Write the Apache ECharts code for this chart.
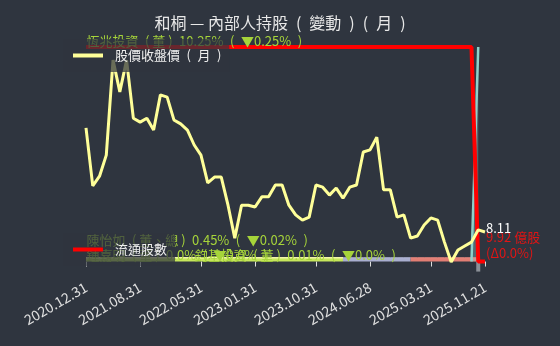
<!DOCTYPE html>
<html><head><meta charset="utf-8">
<script src="https://cdn.jsdelivr.net/npm/echarts@6/dist/echarts.min.js"></script>
<style>html,body{margin:0;padding:0;background:#2f353f;}#c{width:560px;height:346px;}</style>
</head><body><div id="c"></div>
<script>
const dates = ['2020.12.31','2021.01.29','2021.02.26','2021.03.31','2021.04.30','2021.05.31','2021.06.30','2021.07.30','2021.08.31','2021.09.30','2021.10.29','2021.11.30','2021.12.30',
'2022.01.26','2022.02.25','2022.03.31','2022.04.29','2022.05.31','2022.06.30','2022.07.29','2022.08.31','2022.09.30','2022.10.31','2022.11.30','2022.12.30',
'2023.01.31','2023.02.24','2023.03.31','2023.04.28','2023.05.31','2023.06.30','2023.07.31','2023.08.31','2023.09.28','2023.10.31','2023.11.30','2023.12.29',
'2024.01.31','2024.02.29','2024.03.29','2024.04.30','2024.05.31','2024.06.28','2024.07.31','2024.08.30','2024.09.30','2024.10.30','2024.11.29','2024.12.31',
'2025.01.22','2025.02.27','2025.03.31','2025.04.30','2025.05.29','2025.06.30','2025.07.31','2025.08.29','2025.09.30','2025.10.31','2025.11.21'];
// 股價收盤價（月）
const price = [10.48,9.16,9.38,9.86,12.02,11.30,12.02,10.70,10.61,10.70,10.43,11.23,11.18,10.66,10.57,10.43,10.09,9.86,9.23,9.36,
9.36,8.72,7.97,8.72,8.72,8.68,8.91,8.91,9.18,9.18,8.72,8.50,8.38,8.45,9.18,9.13,8.95,9.11,8.88,9.13,
9.18,9.93,9.98,10.27,9.07,9.07,8.45,8.50,7.97,8.02,8.27,8.43,8.38,7.88,7.43,7.70,7.79,7.88,8.16,8.11];
// 流通股數（億股）
const floatShares = [9.92,9.92,9.92,9.92,9.92,9.92,9.92,9.92,9.92,9.92,9.92,9.92,9.92,9.92,9.92,9.92,9.92,9.92,9.92,9.92,
9.92,9.92,9.92,9.92,9.92,9.92,9.92,9.92,9.92,9.92,9.92,9.92,9.92,9.92,9.92,9.92,9.92,9.92,9.92,9.92,
9.92,9.92,9.92,9.92,9.92,9.92,9.92,9.92,9.92,9.92,9.92,9.92,9.92,9.92,9.92,9.92,9.92,9.92,0,0];
const N = dates.length;
const fill = (from, to, v) => dates.map((d, i) => (i >= from && i <= to ? v : null));
// 恆兆投資（董）持股 %
const hengzhao = fill(57, 58, 10.25); hengzhao[57] = 0;
// 其他內部人持股 %
const holderA = fill(0, 38, 0.18);
const holderB = fill(38, 48, 0.18);
const holderC = fill(48, 58, 0.18);
// 持股變動
const changeBar = fill(58, 58, -0.48);
const S = '\u2002';
const P = (t) => S + '(' + S + t + S + ')';
const Q = (t) => S + '(' + ' ' + t + ' ' + ')';
const lastPrice = '8.11';
const sharesText = '9.92 億股';
const sharesChange = '(Δ0.0%)';
const holderLabels = [
  {text: '恆兆投資' + Q('董') + S + '10.25%' + P('▼0.25%'), idx: 0, v: 10.25, dy: -6},
  {text: '陳怡如' + Q('董、總') + S + '0.45%' + P('▼0.02%'), idx: 0, v: 0.18, dy: -18},
  {text: '鍾嘉明' + Q('董') + S + '0.0%' + P('▼0.0%'), idx: 0, v: 0.18, dy: -3},
  {text: '鈞基投資' + Q('董') + S + '0.01%' + P('▼0.0%'), idx: 16, v: 0.18, dy: -3}
];
const labelIdx = [0,1,2,3,4,5,6,7].map(k => Math.round(k * (N - 1) / 7));

const FONT = "'Noto Sans CJK TC', 'Noto Sans', sans-serif";
const chart = echarts.init(document.getElementById('c'));

chart.setOption({
  backgroundColor: '#2f353f',
  animation: false,
  textStyle: {fontFamily: FONT},
  title: {text: '和桐 — 內部人持股' + P('變動') + P('月'), left: 'center', top: 10,
    textStyle: {color: '#e8e8e8', fontSize: 16, fontWeight: 'normal', fontFamily: FONT}},
  legend: [
    {data: ['股價收盤價' + P('月')], z: 20, left: 63, top: 39, padding: [10, 8, 10, 10], itemWidth: 30, itemHeight: 4,
      icon: 'rect', backgroundColor: 'rgba(47,53,63,0.72)',
      textStyle: {color: '#eeeeee', fontSize: 13, fontFamily: FONT, padding: [0, 0, 0, 7]}},
    {data: ['流通股數'], z: 20, left: 63, top: 233, padding: [10, 8, 10, 10], itemWidth: 30, itemHeight: 4,
      icon: 'rect', backgroundColor: 'rgba(47,53,63,0.72)',
      textStyle: {color: '#eeeeee', fontSize: 13, fontFamily: FONT, padding: [0, 0, 0, 7]}}
  ],
  grid: {left: 86, right: 75, top: 47, bottom: 74},
  xAxis: {type: 'category', data: dates, boundaryGap: false,
    axisLine: {show: false},
    axisTick: {show: true, length: 5, interval: (i) => labelIdx.includes(i), lineStyle: {color: '#dddddd'}},
    axisLabel: {rotate: 30, fontSize: 14, color: '#e0e0e0', margin: 14, interval: (i) => labelIdx.includes(i), fontFamily: FONT},
    splitLine: {show: false}},
  yAxis: [
    {type: 'value', min: 7.2, max: 12.32, show: false},
    {type: 'value', min: -0.5, max: 10.25, show: false},
    {type: 'value', min: -0.484, max: 9.92, show: false}
  ],
  series: [
    {name: 'holderA', type: 'line', yAxisIndex: 1, data: holderA, showSymbol: false, silent: true,
      lineStyle: {color: '#f2f5a8', width: 1.5}, areaStyle: {color: '#c6e65c', opacity: 1},
      markPoint: {symbol: 'circle', symbolSize: 1, itemStyle: {color: 'rgba(0,0,0,0)'},
        data: holderLabels.map(h => ({coord: [dates[h.idx], h.v],
          label: {show: true, position: 'right', distance: 0, offset: [0, h.dy], formatter: h.text,
            color: '#a6d43a', fontSize: 13, fontFamily: FONT}}))}},
    {name: 'holderB', type: 'line', yAxisIndex: 1, data: holderB, showSymbol: false, silent: true,
      lineStyle: {color: '#b4b9d8', width: 1}, areaStyle: {color: '#a9aecf', opacity: 1}},
    {name: 'holderC', type: 'line', yAxisIndex: 1, data: holderC, showSymbol: false, silent: true,
      lineStyle: {color: '#ea8a80', width: 1}, areaStyle: {color: '#e27e74', opacity: 1}},
    {name: '恆兆投資', type: 'line', yAxisIndex: 1, data: hengzhao, showSymbol: false, silent: true,
      lineStyle: {color: '#8fd0ca', width: 2.5}, areaStyle: {color: '#8fd0ca', opacity: 0.35}},
    {name: 'change', type: 'bar', yAxisIndex: 1, data: changeBar, barWidth: 4, silent: true,
      itemStyle: {color: '#8b9097'}},
    {name: '流通股數', type: 'line', yAxisIndex: 2, data: floatShares, showSymbol: false, color: '#ff0000',
      lineStyle: {color: '#ff0000', width: 4},
      endLabel: {show: true, distance: 1, offset: [0, -16], color: '#e01515', fontSize: 13, lineHeight: 16,
        fontFamily: FONT, formatter: sharesText + '\n' + sharesChange}},
    {name: '股價收盤價' + P('月'), type: 'line', yAxisIndex: 0, data: price, showSymbol: false, color: '#ffff99',
      lineStyle: {color: '#ffff99', width: 3},
      endLabel: {show: true, distance: 1, offset: [0, -4], color: '#ffffff', fontSize: 13, fontFamily: FONT, formatter: lastPrice}}
  ]
});
</script></body></html>
